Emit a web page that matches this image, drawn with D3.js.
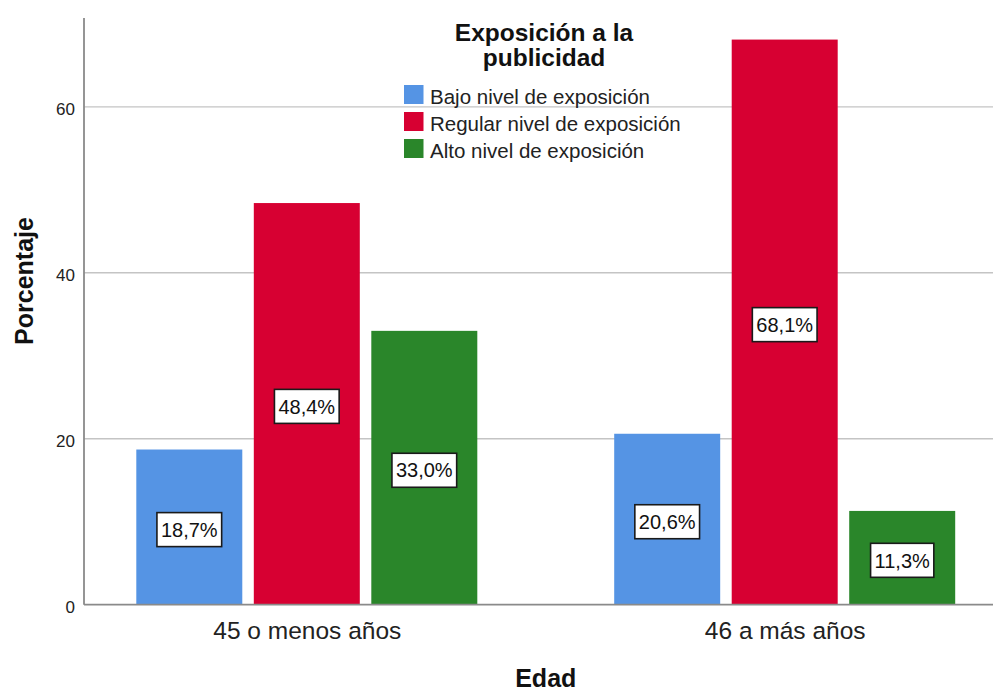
<!DOCTYPE html>
<html>
<head>
<meta charset="utf-8">
<script src="https://cdn.jsdelivr.net/npm/d3@7"></script>
<style>
  html, body { margin: 0; padding: 0; background: #fff; }
  svg { display: block; font-family: "Liberation Sans", Arial, sans-serif; }
</style>
</head>
<body>
<svg id="chart" width="993" height="693"></svg>
<script>
// Age groups and exposure levels (percent of each age group)
const categories = ["45 o menos años", "46 a más años"];
const seriesNames = ["Bajo nivel de exposición", "Regular nivel de exposición", "Alto nivel de exposición"];
const bajo = [18.7, 20.6];
const regular = [48.4, 68.1];
const alto = [33.0, 11.3];
const yTicks = [0, 20, 40, 60];
const colors = ["#5594e4", "#d70032", "#2a862a"];

const seriesValues = [bajo, regular, alto];
const rows = categories.map((c, i) => ({
  cat: c,
  vals: seriesNames.map((s, j) => ({ series: s, idx: j, value: seriesValues[j][i] }))
}));

const svg = d3.select("#chart");
const W = 993, H = 693;
const plot = { left: 84, right: 993, top: 18, bottom: 604.7 };

const y = d3.scaleLinear().domain([0, 70.7]).range([plot.bottom, plot.top]);

// Group centres placed with a point scale, bars laid out with a band scale inside each group
const x0 = d3.scalePoint().domain(categories).range([306.8, 784.7]);
const groupWidth = 341;
const x1 = d3.scaleBand().domain(seriesNames).range([-groupWidth / 2, groupWidth / 2]).paddingInner(0.098).paddingOuter(0);

// Gridlines
svg.append("g")
  .selectAll("line")
  .data(yTicks.filter(d => d > 0))
  .join("line")
  .attr("x1", plot.left).attr("x2", plot.right)
  .attr("y1", d => y(d)).attr("y2", d => y(d))
  .attr("stroke", "#c4c4c4").attr("stroke-width", 1.3);

// Y axis (labels only, no tick marks)
const yAxis = d3.axisLeft(y).tickValues(yTicks).tickSize(0).tickPadding(9).tickFormat(d3.format("d"));
const gy = svg.append("g").attr("transform", `translate(${plot.left},0)`).call(yAxis);
gy.select(".domain").remove();
gy.selectAll("text")
  .attr("font-size", 17).attr("fill", "#222")
  .attr("font-family", "\"Liberation Sans\", Arial, sans-serif")
  .attr("dy", "0.45em");

// Bars
const groups = svg.append("g").selectAll("g")
  .data(rows).join("g")
  .attr("transform", d => `translate(${x0(d.cat)},0)`);

groups.selectAll("rect")
  .data(d => d.vals).join("rect")
  .attr("x", d => x1(d.series))
  .attr("width", x1.bandwidth())
  .attr("y", d => y(d.value))
  .attr("height", d => y(0) - y(d.value))
  .attr("fill", d => colors[d.idx]);

// Value labels in boxes at bar mid-height
const fmt = v => d3.format(".1f")(v).replace(".", ",") + "%";
const labels = groups.selectAll("g.lab")
  .data(d => d.vals).join("g").attr("class", "lab")
  .attr("transform", d => `translate(${x1(d.series) + x1.bandwidth() / 2},${(y(d.value) + y(0)) / 2 + 2.5})`);

labels.each(function(d) {
  const g = d3.select(this);
  const rect = g.append("rect");
  const t = g.append("text")
    .attr("text-anchor", "middle")
    .attr("dy", "0.36em")
    .attr("font-size", 20)
    .attr("fill", "#111")
    .text(fmt(d.value));
  const w = t.node().getComputedTextLength() + 8;
  const h = 34;
  rect.attr("x", -w / 2).attr("y", -h / 2).attr("width", w).attr("height", h)
    .attr("fill", "#fff").attr("stroke", "#1a1a1a").attr("stroke-width", 1.6);
});

// Axis lines
svg.append("line")
  .attr("x1", plot.left).attr("x2", plot.left)
  .attr("y1", plot.top).attr("y2", plot.bottom)
  .attr("stroke", "#8a8a8a").attr("stroke-width", 1.8);
svg.append("line")
  .attr("x1", plot.left).attr("x2", plot.right)
  .attr("y1", plot.bottom).attr("y2", plot.bottom)
  .attr("stroke", "#8a8a8a").attr("stroke-width", 1.8);

// Category labels
const xAxis = d3.axisBottom(x0).tickSize(0).tickPadding(0);
const gx = svg.append("g").attr("transform", `translate(0,${plot.bottom})`).call(xAxis);
gx.select(".domain").remove();
gx.selectAll("text")
  .attr("font-size", 24.5).attr("fill", "#222")
  .attr("font-family", "\"Liberation Sans\", Arial, sans-serif")
  .attr("y", 34.5).attr("dy", 0);

// Axis titles
svg.append("text")
  .attr("x", (x0.range()[0] + x0.range()[1]) / 2).attr("y", 687)
  .attr("text-anchor", "middle").attr("font-size", 25).attr("font-weight", "bold").attr("fill", "#111")
  .text("Edad");
svg.append("text")
  .attr("transform", "translate(33,281) rotate(-90)")
  .attr("text-anchor", "middle").attr("font-size", 25).attr("font-weight", "bold").attr("fill", "#111")
  .text("Porcentaje");

// Legend
const legendTitle = ["Exposición a la", "publicidad"];
svg.append("g").selectAll("text")
  .data(legendTitle).join("text")
  .attr("x", 544).attr("y", (d, i) => 41 + i * 25)
  .attr("text-anchor", "middle").attr("font-size", 24.5).attr("font-weight", "bold").attr("fill", "#111")
  .text(d => d);

const leg = svg.append("g").selectAll("g")
  .data(seriesNames).join("g")
  .attr("transform", (d, i) => `translate(404,${104 + i * 27})`);
leg.append("rect")
  .attr("x", 0).attr("y", -19).attr("width", 19.5).attr("height", 19)
  .attr("fill", (d, i) => colors[i]);
leg.append("text")
  .attr("x", 26).attr("y", 0)
  .attr("font-size", 20.5).attr("fill", "#222")
  .text(d => d);
</script>
</body>
</html>
